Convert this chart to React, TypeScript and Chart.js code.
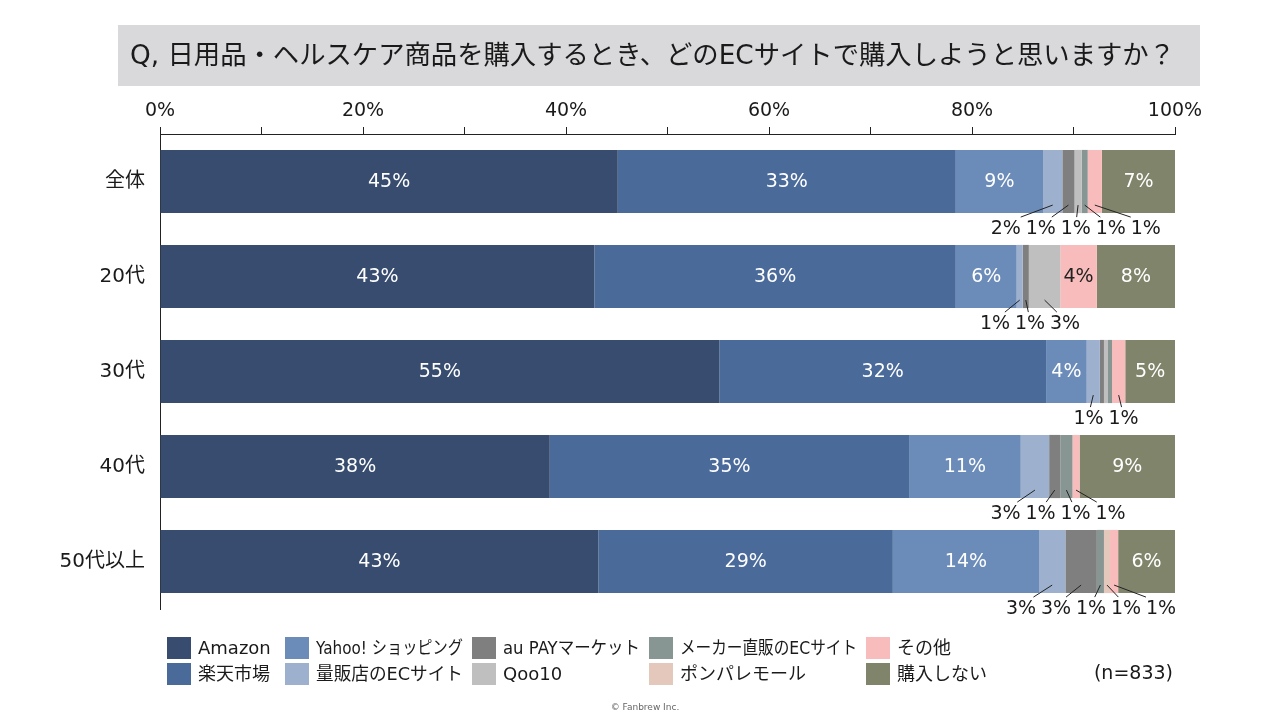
import { useEffect, useRef } from 'react';
import { Chart, registerables } from 'chart.js';

Chart.register(...registerables);

const FONT = "'DejaVu Sans', 'Noto Sans CJK JP', sans-serif";

const titleText = 'Q, 日用品・ヘルスケア商品を購入するとき、どのECサイトで購入しようと思いますか？';
const sampleNote = '(n=833)';
const copyright = '© Fanbrew Inc.';

const categories = ['全体', '20代', '30代', '40代', '50代以上'];

const seriesNames = [
  'Amazon',
  '楽天市場',
  'Yahoo! ショッピング',
  '量販店のECサイト',
  'au PAYマーケット',
  'Qoo10',
  'メーカー直販のECサイト',
  'ポンパレモール',
  'その他',
  '購入しない',
];

const seriesColors = [
  '#374c6e',
  '#4a6a9a',
  '#6b8bb8',
  '#9db0ce',
  '#7f7f7f',
  '#bfbfbf',
  '#879593',
  '#e4c8bc',
  '#f9bcbc',
  '#80846a',
];

const insideTextColors = ['#fff', '#fff', '#fff', '#fff', '#fff', '#222', '#fff', '#222', '#222', '#fff'];

const amazon = [45.1, 42.8, 55.1, 38.4, 43.2];
const rakuten = [33.3, 35.6, 32.2, 35.4, 29.0];
const yahoo = [8.6, 6.0, 4.0, 11.0, 14.4];
const massRetailer = [1.9, 0.6, 1.3, 2.8, 2.6];
const auPay = [1.2, 0.6, 0.4, 1.1, 3.1];
const qoo10 = [0.7, 3.1, 0.4, 0, 0];
const makerDirect = [0.6, 0, 0.4, 1.2, 0.7];
const ponpare = [0, 0, 0, 0, 0.6];
const others = [1.4, 3.6, 1.3, 0.7, 0.8];
const noPurchase = [7.2, 7.7, 4.9, 9.4, 5.6];

const seriesValues = [amazon, rakuten, yahoo, massRetailer, auPay, qoo10, makerDirect, ponpare, others, noPurchase];

const xMin = 0;
const xMax = 100;
const xStep = 10;
const xLabelStep = 20;

const overlayPlugin = {
  id: 'overlay',
  beforeDraw(chart: any) {
    const ctx = chart.ctx;
    ctx.save();
    ctx.fillStyle = '#ffffff';
    ctx.fillRect(0, 0, chart.width, chart.height);
    ctx.fillStyle = '#d9d9dc';
    ctx.fillRect(118, 25, 1082, 61);
    ctx.fillStyle = '#1a1a1a';
    ctx.font = `26.5px ${FONT}`;
    ctx.textAlign = 'left';
    ctx.textBaseline = 'middle';
    ctx.fillText(titleText, 130, 57, 1045);
    ctx.restore();
  },
  afterDatasetsDraw(chart: any) {
    const ctx = chart.ctx;
    ctx.save();
    ctx.font = `19px ${FONT}`;
    ctx.textBaseline = 'middle';
    ctx.textAlign = 'center';
    categories.forEach((_, j) => {
      const outside: { cx: number; text: string; bottom: number }[] = [];
      chart.data.datasets.forEach((ds: any, i: number) => {
        const v = ds.data[j];
        if (!v) return;
        const el = chart.getDatasetMeta(i).data[j];
        const p = el.getProps(['x', 'base', 'y', 'height'], true);
        const cx = (p.x + p.base) / 2;
        const r = Math.round(v);
        if (v >= 3.5) {
          ctx.fillStyle = insideTextColors[i];
          ctx.fillText(r + '%', cx, p.y + 1);
        } else if (r >= 1) {
          outside.push({ cx, text: r + '%', bottom: p.y + p.height / 2 });
        }
      });
      if (outside.length) {
        const spacing = 35;
        const mean = outside.reduce((a, o) => a + o.cx, 0) / outside.length;
        const start = mean - ((outside.length - 1) / 2) * spacing;
        outside.forEach((o, k) => {
          const lx = start + k * spacing;
          const dx = Math.max(-15, Math.min(15, (o.cx - lx) * 0.4));
          ctx.strokeStyle = '#222';
          ctx.lineWidth = 1;
          ctx.beginPath();
          ctx.moveTo(o.cx, o.bottom - 8);
          ctx.lineTo(lx + dx, o.bottom + 4);
          ctx.stroke();
          ctx.fillStyle = '#1a1a1a';
          ctx.fillText(o.text, lx, o.bottom + 16);
        });
      }
    });
    ctx.restore();
  },
  afterDraw(chart: any) {
    const ctx = chart.ctx;
    ctx.save();
    const colX = [167, 285, 472, 649, 866];
    const rowY = [648, 674];
    ctx.font = `18px ${FONT}`;
    ctx.textBaseline = 'middle';
    ctx.textAlign = 'left';
    seriesNames.forEach((name, i) => {
      const col = Math.floor(i / 2);
      const x = colX[col];
      const y = rowY[i % 2];
      ctx.fillStyle = seriesColors[i];
      ctx.fillRect(x, y - 11, 24, 22);
      ctx.fillStyle = '#1a1a1a';
      const tx = x + 31;
      const next = col + 1 < colX.length ? colX[col + 1] : 1060;
      ctx.fillText(name, tx, y + 1, next - tx - 9);
    });
    ctx.font = `19px ${FONT}`;
    ctx.textAlign = 'right';
    ctx.fillText(sampleNote, 1173, 674);
    ctx.font = `9px ${FONT}`;
    ctx.textAlign = 'center';
    ctx.fillStyle = '#666';
    ctx.fillText(copyright, 645, 708);
    ctx.restore();
  },
};

export default function App() {
  const canvasRef = useRef<HTMLCanvasElement | null>(null);

  useEffect(() => {
    document.body.style.margin = '0';
    const canvas = canvasRef.current;
    if (!canvas) return;
    const chart = new Chart(canvas, {
      type: 'bar',
      data: {
        labels: categories,
        datasets: seriesNames.map((name, i) => ({
          label: name,
          data: seriesValues[i],
          backgroundColor: seriesColors[i],
          borderWidth: 0,
          barPercentage: 0.665,
          categoryPercentage: 1,
        })),
      },
      options: {
        indexAxis: 'y',
        animation: false,
        responsive: false,
        devicePixelRatio: 1,
        layout: { padding: { left: 0, right: 105, top: 0, bottom: 111 } },
        plugins: {
          legend: { display: false },
          tooltip: { enabled: false },
        },
        scales: {
          x: {
            stacked: true,
            position: 'top',
            min: xMin,
            max: xMax,
            ticks: {
              stepSize: xStep,
              autoSkip: false,
              maxRotation: 0,
              padding: 5,
              color: '#1a1a1a',
              font: { family: FONT, size: 19 },
              callback: (v: any) => (Number(v) % xLabelStep === 0 ? v + '%' : ''),
            },
            grid: {
              display: true,
              drawOnChartArea: false,
              drawTicks: true,
              tickLength: 7,
              color: '#222',
              lineWidth: 1,
            },
            border: { display: true, color: '#222', width: 1 },
            afterFit: (s: any) => {
              s.height = 134;
            },
          },
          y: {
            stacked: true,
            grid: { display: false },
            border: { display: true, color: '#222', width: 1 },
            ticks: {
              padding: 7,
              color: '#1a1a1a',
              font: { family: FONT, size: 20 },
            },
            afterFit: (s: any) => {
              s.width = 160;
            },
          },
        },
      },
      plugins: [overlayPlugin],
    });
    return () => chart.destroy();
  }, []);

  return (
    <div style={{ width: 1280, height: 720 }}>
      <canvas ref={canvasRef} width={1280} height={720} style={{ display: 'block' }} />
    </div>
  );
}
